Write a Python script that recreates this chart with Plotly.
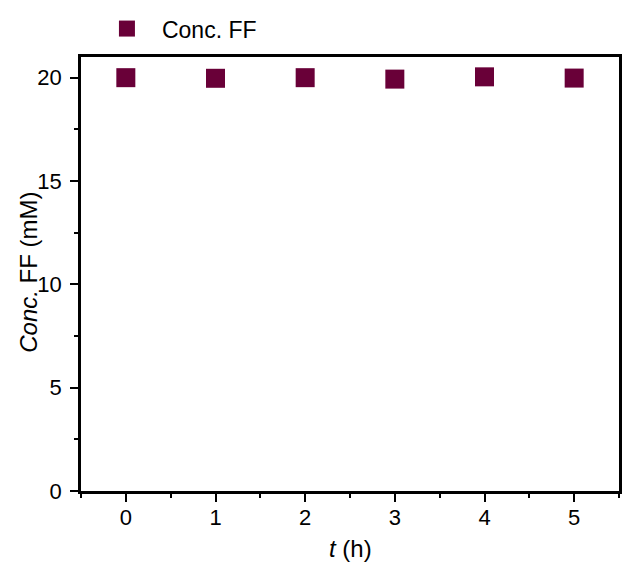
import plotly.graph_objects as go

# Time points (h) and measured FF concentration (mM)
time_h = [0, 1, 2, 3, 4, 5]
conc_ff = [20.0, 19.97, 20.0, 19.93, 20.04, 19.98]

series_name = "Conc. FF"
marker_color = "#690038"
font_family = "Liberation Sans, Arial, Helvetica, sans-serif"

fig = go.Figure()
fig.add_trace(go.Scatter(
    x=time_h, y=conc_ff, mode="markers", name=series_name,
    marker=dict(symbol="square", size=19, color=marker_color, line=dict(width=0)),
))

axis_common = dict(
    showline=True, linecolor="black", linewidth=2.5, mirror=True,
    ticks="outside", ticklen=8, tickwidth=2, tickcolor="black",
    showgrid=False, zeroline=False,
    tickfont=dict(family=font_family, size=22, color="black"),
)

fig.update_xaxes(
    range=[-0.5, 5.5], tickmode="array", tickvals=time_h,
    ticklabelstandoff=-3,
    minor=dict(dtick=0.5, ticklen=4, tickwidth=2, ticks="outside", tickcolor="black"),
    **axis_common,
)
fig.update_yaxes(
    range=[0, 21], tickmode="array", tickvals=[0, 5, 10, 15, 20],
    ticklabelstandoff=4,
    minor=dict(dtick=2.5, ticklen=4, tickwidth=2, ticks="outside", tickcolor="black"),
    **axis_common,
)

fig.update_layout(
    width=629, height=574,
    margin=dict(l=81, r=7, t=56, b=83),
    plot_bgcolor="white", paper_bgcolor="white",
    font=dict(family=font_family, color="black"),
    showlegend=True,
    legend=dict(
        x=(92 - 81) / 541, y=1 + (56 - 6) / 435, xanchor="left", yanchor="top",
        font=dict(family=font_family, size=23, color="black"),
        bgcolor="rgba(0,0,0,0)", itemwidth=60,
    ),
    annotations=[
        dict(text="<i>t</i> (h)", x=0.5, y=(491 - 549) / 435, xref="paper", yref="paper",
             xanchor="center", yanchor="middle", showarrow=False,
             font=dict(family=font_family, size=24, color="black")),
        dict(text="<i>Conc.</i> FF (mM)", x=(28 - 81) / 541, y=(491 - 272) / 435,
             xref="paper", yref="paper", xanchor="center", yanchor="middle",
             textangle=-90, showarrow=False,
             font=dict(family=font_family, size=24, color="black")),
    ],
)

fig.write_html("out.html")
